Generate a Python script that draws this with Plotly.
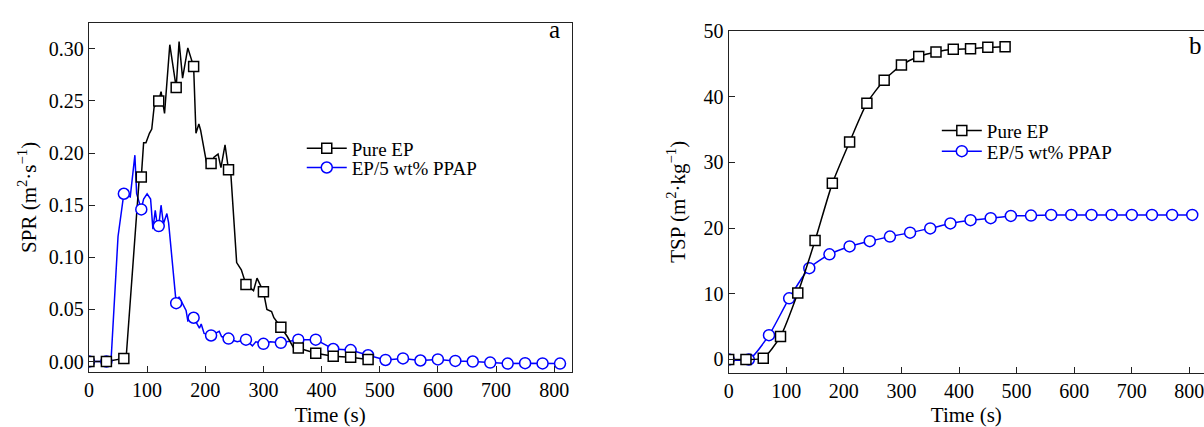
import plotly.graph_objects as go

# ---------------- (a) smoke production rate, SPR (m2/s) ----------------
# Pure EP: sampled curve; open squares sit on the 30 s grid
spr_ep_t = [0, 30, 60, 64, 86, 90, 94, 98, 104, 108, 112, 120, 124, 130, 139,
            150, 155, 161, 170, 180, 184, 189, 192, 198, 204, 210, 215, 222,
            227, 234, 240, 244, 254, 262, 270, 283, 289, 300, 306, 314, 318,
            330, 341, 352, 360, 390, 420, 450, 480]
spr_ep = [0.000, 0.000, 0.003, 0.004, 0.172, 0.177, 0.210, 0.210, 0.219, 0.223,
          0.244, 0.250, 0.259, 0.238, 0.304, 0.263, 0.307, 0.272, 0.301, 0.283,
          0.219, 0.228, 0.222, 0.204, 0.185, 0.190, 0.196, 0.199, 0.186, 0.208,
          0.184, 0.180, 0.095, 0.088, 0.074, 0.068, 0.080, 0.067, 0.050, 0.048,
          0.042, 0.033, 0.024, 0.013, 0.013, 0.008, 0.005, 0.004, 0.002]

# EP/5 wt% PPAP: sampled curve; open circles sit on the 30 s grid
spr_ppap_t = [0, 30, 38, 50, 60, 71, 79, 82, 90, 94, 100, 106, 110, 114, 117,
              120, 124, 128, 134, 137, 150, 155, 167, 170, 180, 190, 193, 198,
              210, 224, 228, 240, 255, 270, 281, 287, 300, 312, 330, 360, 390,
              420, 450, 480, 510, 540, 570, 600, 630, 660, 690, 720, 750, 780, 810]
spr_ppap = [0.000, 0.000, 0.001, 0.120, 0.161, 0.158, 0.198, 0.161, 0.146, 0.156,
            0.161, 0.156, 0.127, 0.145, 0.133, 0.130, 0.150, 0.132, 0.142, 0.133,
            0.056, 0.062, 0.049, 0.039, 0.042, 0.032, 0.036, 0.027, 0.025, 0.029,
            0.024, 0.022, 0.019, 0.021, 0.015, 0.019, 0.017, 0.019, 0.018, 0.021,
            0.021, 0.012, 0.011, 0.006, 0.0015, 0.003, 0.001, 0.002, 0.0006, 0.000,
            -0.001, -0.002, -0.0016, -0.0018, -0.002]

# ---------------- (b) total smoke production, TSP (m2/kg) ----------------
tsp_ep_t = [0, 30, 60, 90, 120, 150, 180, 210, 240, 270, 300, 330, 360, 390,
            420, 450, 480]
tsp_ep = [0.0, 0.0, 0.2, 3.5, 10.1, 18.1, 26.8, 33.1, 39.0, 42.5, 44.8, 46.1,
          46.8, 47.2, 47.3, 47.5, 47.6]

tsp_ppap_t = [0, 35, 70, 105, 140, 175, 210, 245, 280, 315, 350, 385, 420, 455,
              490, 525, 560, 595, 630, 665, 700, 735, 770, 805]
tsp_ppap = [0.0, 0.0, 3.7, 9.3, 13.9, 16.0, 17.2, 18.0, 18.7, 19.3, 19.95, 20.7,
            21.2, 21.5, 21.85, 21.9, 22.0, 22.0, 22.0, 22.0, 22.0, 22.0, 22.0, 22.0]

series_names = ["Pure EP", "EP/5 wt% PPAP"]
x_ticks = [0, 100, 200, 300, 400, 500, 600, 700, 800]

BLACK = "#000000"
BLUE = "#0000ff"
FONT = "Liberation Serif, Times New Roman, serif"
W, H = 1204, 427


def on_grid(ts, ys, step=30):
    """Keep only the samples that fall on the marker grid."""
    pts = [(t, y) for t, y in zip(ts, ys) if t % step == 0]
    return [p[0] for p in pts], [p[1] for p in pts]


fig = go.Figure()

sq_marker = dict(symbol="square", size=10, color="white", line=dict(color=BLACK, width=1.5))
ci_marker = dict(symbol="circle", size=11, color="white", line=dict(color=BLUE, width=1.5))

# panel (a): dense lines, then markers on top
fig.add_trace(go.Scatter(x=spr_ppap_t, y=spr_ppap, mode="lines", line=dict(color=BLUE, width=1.5),
                         showlegend=False, xaxis="x", yaxis="y", hoverinfo="skip"))
fig.add_trace(go.Scatter(x=spr_ep_t, y=spr_ep, mode="lines", line=dict(color=BLACK, width=1.5),
                         showlegend=False, xaxis="x", yaxis="y", hoverinfo="skip"))
mx, my = on_grid(spr_ppap_t, spr_ppap)
fig.add_trace(go.Scatter(x=mx, y=my, mode="markers", marker=ci_marker,
                         showlegend=False, xaxis="x", yaxis="y"))
mx, my = on_grid(spr_ep_t, spr_ep)
fig.add_trace(go.Scatter(x=mx, y=my, mode="markers", marker=sq_marker,
                         showlegend=False, xaxis="x", yaxis="y"))

# legend keys for panel (a)
fig.add_trace(go.Scatter(x=[None], y=[None], mode="lines+markers", name=series_names[0],
                         line=dict(color=BLACK, width=1.5), marker=sq_marker,
                         legend="legend", xaxis="x", yaxis="y"))
fig.add_trace(go.Scatter(x=[None], y=[None], mode="lines+markers", name=series_names[1],
                         line=dict(color=BLUE, width=1.5), marker=ci_marker,
                         legend="legend2", xaxis="x", yaxis="y"))

# panel (b)
fig.add_trace(go.Scatter(x=tsp_ppap_t, y=tsp_ppap, mode="lines+markers", name=series_names[1],
                         line=dict(color=BLUE, width=1.5, shape="spline", smoothing=0.6),
                         marker=ci_marker, legend="legend4", xaxis="x2", yaxis="y2"))
fig.add_trace(go.Scatter(x=tsp_ep_t, y=tsp_ep, mode="lines+markers", name=series_names[0],
                         line=dict(color=BLACK, width=1.5, shape="spline", smoothing=0.6),
                         marker=sq_marker, legend="legend3", xaxis="x2", yaxis="y2"))

axis_common = dict(
    showgrid=False, zeroline=False, showline=True, linecolor="#222222", linewidth=1.2,
    ticks="inside", ticklen=6, tickwidth=1.2, tickcolor="#222222",
    tickfont=dict(family=FONT, size=20, color="black"),
    ticklabeloverflow="allow",
)
title_font = dict(family=FONT, size=21, color="black")

fig.update_layout(
    width=W, height=H,
    margin=dict(l=0, r=0, t=0, b=0),
    paper_bgcolor="white", plot_bgcolor="white",
    font=dict(family=FONT, size=20, color="black"),
    xaxis=dict(axis_common, domain=[84.3 / W, 569 / W], range=[0, 830], mirror=True,
               tickvals=x_ticks, anchor="y",
               title=dict(text="Time (s)", font=title_font, standoff=11)),
    yaxis=dict(axis_common, domain=[1 - 375 / H, 1 - 12.3 / H], range=[-0.01, 0.325], mirror=True,
               tickvals=[0, 0.05, 0.10, 0.15, 0.20, 0.25, 0.30], tickformat=".2f", anchor="x",
               title=dict(text="SPR (m<sup>2</sup>·s<sup>−1</sup>)", font=title_font, standoff=6)),
    xaxis2=dict(axis_common, domain=[726.7 / W, 1.0], range=[0, 825.4], mirror=True,
                tickvals=x_ticks, anchor="y2",
                title=dict(text="Time (s)", font=title_font, standoff=11)),
    yaxis2=dict(axis_common, domain=[1 - 375.7 / H, 1 - 20.7 / H], range=[-2, 50], mirror=False,
                tickvals=[0, 10, 20, 30, 40, 50], anchor="x2",
                title=dict(text="TSP (m<sup>2</sup>·kg<sup>−1</sup>)", font=title_font, standoff=12)),
)

# one legend box per entry so each row can be placed on its own
legend_common = dict(bgcolor="rgba(0,0,0,0)", borderwidth=0, xanchor="left", yanchor="top",
                     font=dict(family=FONT, size=19, color="black"), itemclick=False,
                     itemwidth=40, tracegroupgap=0)
fig.update_layout(
    legend=dict(legend_common, x=298 / W, y=1 - 123 / H),
    legend2=dict(legend_common, x=298 / W, y=1 - 143 / H),
    legend3=dict(legend_common, x=935.7 / W, y=1 - 104.5 / H),
    legend4=dict(legend_common, x=935.7 / W, y=1 - 126 / H),
)

fig.add_annotation(text="a", xref="paper", yref="paper", x=552 / W, y=1 - 19.5 / H,
                   xanchor="center", yanchor="middle", showarrow=False,
                   font=dict(family=FONT, size=25, color="black"))
fig.add_annotation(text="b", xref="paper", yref="paper", x=1195 / W, y=1 - 35.5 / H,
                   xanchor="center", yanchor="middle", showarrow=False,
                   font=dict(family=FONT, size=25, color="black"))

fig.write_html("out.html")
